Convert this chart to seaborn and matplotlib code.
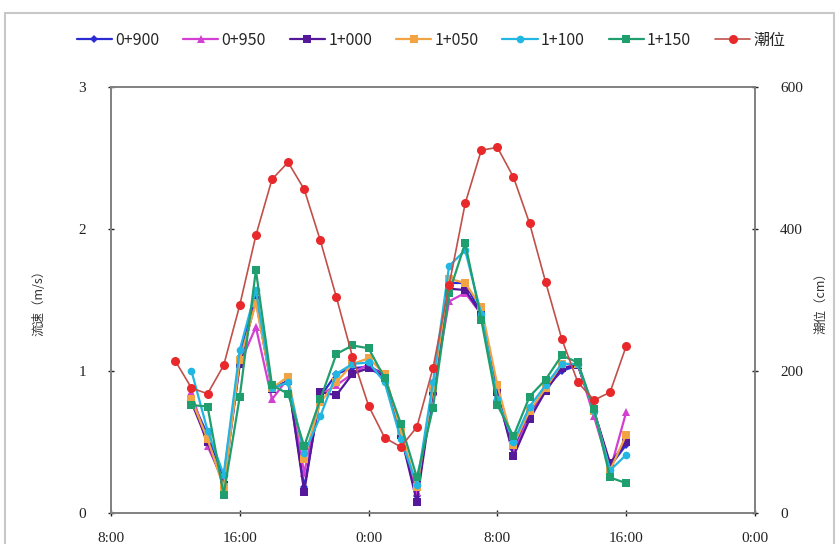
import matplotlib
matplotlib.use("Agg")
import matplotlib.pyplot as plt
import seaborn as sns
import pandas as pd
import numpy as np
from matplotlib.patches import Rectangle

# hours counted from 8:00 on day 1
tide_hours = list(range(4, 33))
vel_hours = list(range(5, 33))

tide = [214, 176, 168, 208, 293, 391, 470, 494, 456, 384, 304, 220, 151, 106, 93,
        121, 204, 321, 436, 511, 515, 473, 408, 325, 245, 184, 159, 170, 235]

v_0900 = [0.80, 0.55, 0.25, 1.10, 1.55, 0.88, 0.93, 0.18, 0.82, 0.98, 1.02, 1.03, 0.98, 0.55,
          0.12, 0.88, 1.62, 1.62, 1.40, 0.83, 0.45, 0.70, 0.88, 1.00, 1.04, 0.72, 0.33, 0.48]
v_0950 = [0.85, 0.47, 0.22, 1.05, 1.31, 0.80, 0.95, 0.28, 0.83, 0.90, 0.98, 1.05, 0.95, 0.55,
          0.15, 0.85, 1.49, 1.55, 1.40, 0.82, 0.43, 0.68, 0.86, 1.02, 1.05, 0.68, 0.30, 0.71]
v_1000 = [0.78, 0.50, 0.20, 1.05, 1.50, 0.87, 0.93, 0.15, 0.85, 0.83, 0.98, 1.02, 0.96, 0.55,
          0.08, 0.86, 1.58, 1.57, 1.40, 0.85, 0.40, 0.66, 0.86, 1.02, 1.04, 0.72, 0.35, 0.50]
v_1050 = [0.80, 0.52, 0.18, 1.08, 1.48, 0.88, 0.96, 0.38, 0.78, 0.92, 1.05, 1.09, 0.98, 0.58,
          0.18, 0.88, 1.65, 1.62, 1.45, 0.90, 0.48, 0.72, 0.88, 1.05, 1.05, 0.72, 0.30, 0.55]
v_1100 = [1.00, 0.58, 0.27, 1.15, 1.57, 0.88, 0.92, 0.42, 0.68, 0.98, 1.05, 1.06, 0.92, 0.52,
          0.20, 0.92, 1.74, 1.85, 1.40, 0.80, 0.50, 0.75, 0.90, 1.05, 1.05, 0.72, 0.30, 0.41]
v_1150 = [0.76, 0.75, 0.13, 0.82, 1.71, 0.90, 0.84, 0.47, 0.80, 1.12, 1.18, 1.16, 0.95, 0.63,
          0.25, 0.74, 1.55, 1.90, 1.36, 0.76, 0.54, 0.82, 0.94, 1.11, 1.06, 0.73, 0.25, 0.21]

names = ["0+900", "0+950", "1+000", "1+050", "1+100", "1+150"]
series = [v_0900, v_0950, v_1000, v_1050, v_1100, v_1150]
colors = ["#2b2bd6", "#d23fd2", "#55189a", "#f2a445", "#22b6e2", "#1f9e6e"]
markers = ["D", "^", "s", "s", "o", "s"]
sizes = [4.5, 5.5, 5.5, 5.5, 5.5, 5.5]

x_ticks = [0, 8, 16, 24, 32, 40]
x_labels = ["8:00", "16:00", "0:00", "8:00", "16:00", "0:00"]

sns.set_style("ticks")
plt.rcParams["font.family"] = ["Liberation Serif", "Noto Sans CJK SC"]
cjk = ["Noto Sans CJK SC", "DejaVu Sans"]

fig = plt.figure(figsize=(8.37, 5.44), dpi=100)
ax = fig.add_axes([0.1326, 0.057, 0.7694, 0.783])
ax2 = ax.twinx()

for name, vals, c, m, s in zip(names, series, colors, markers, sizes):
    d = pd.DataFrame({"h": vel_hours, "v": vals})
    sns.lineplot(data=d, x="h", y="v", ax=ax, color=c, marker=m, markersize=s,
                 markeredgewidth=0, linewidth=1.6, label=name)

td = pd.DataFrame({"h": tide_hours, "z": tide})
sns.lineplot(data=td, x="h", y="z", ax=ax2, color="#c0504a", marker="o", markersize=6.5,
             markerfacecolor="#e8282a", markeredgewidth=0, linewidth=1.2, label="潮位")

ax.set_xlim(0, 40)
ax.set_ylim(0, 3)
ax2.set_ylim(0, 600)
ax.set_xticks(x_ticks)
ax.set_xticklabels(x_labels)
ax.set_yticks([0, 1, 2, 3])
ax2.set_yticks([0, 200, 400, 600])
ax.set_xlabel("")
ax.set_ylabel("流速（m/s）", family=cjk, fontsize=9, color="#333333", labelpad=24)
ax2.set_ylabel("潮位（cm）", family=cjk, fontsize=9, color="#333333", labelpad=8)

for a in (ax, ax2):
    a.tick_params(direction="inout", length=4, width=1, labelsize=11, colors="#222222")
    for sp in a.spines.values():
        sp.set_color("#808080")
        sp.set_linewidth(1.2)
ax.tick_params(axis="y", pad=16)
ax.tick_params(axis="x", pad=12)
ax2.tick_params(axis="y", pad=16)

h1, l1 = ax.get_legend_handles_labels()
h2, l2 = ax2.get_legend_handles_labels()
ax.get_legend().remove()
ax2.get_legend().remove()
fig.legend(h1 + h2, l1 + l2, loc="center", bbox_to_anchor=(0.515, 0.926), ncol=7,
           frameon=False, prop={"family": cjk, "size": 11.5}, handlelength=2.2,
           handletextpad=0.2, columnspacing=1.5)

fig.patches.append(Rectangle((0.006, -0.1), 0.99, 1.076, transform=fig.transFigure,
                             fill=False, edgecolor="#c8c8c8", linewidth=1.5))

fig.savefig("out.png", dpi=100)
